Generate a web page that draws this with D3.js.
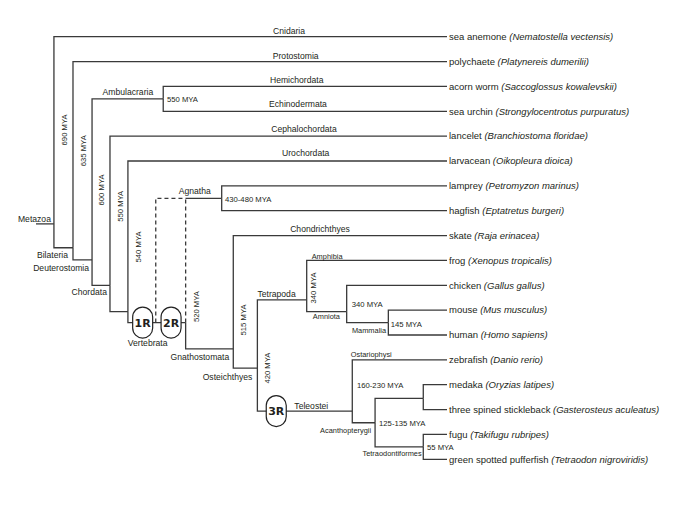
<!DOCTYPE html>
<html>
<head>
<meta charset="utf-8">
<script src="https://cdn.jsdelivr.net/npm/d3@7"></script>
<style>
  body { margin: 0; background: #fff; }
  text { font-family: "Liberation Sans", Arial, sans-serif; fill: #231f20; }
</style>
</head>
<body>
<svg id="chart" width="685" height="529"></svg>
<script>
// ---- data ----
// leaves, top to bottom
const commonNames = ["sea anemone", "polychaete", "acorn worm", "sea urchin", "lancelet", "larvacean",
  "lamprey", "hagfish", "skate", "frog", "chicken", "mouse", "human", "zebrafish", "medaka",
  "three spined stickleback", "fugu", "green spotted pufferfish"];
const speciesNames = ["Nematostella vectensis", "Platynereis dumerilii", "Saccoglossus kowalevskii",
  "Strongylocentrotus purpuratus", "Branchiostoma floridae", "Oikopleura dioica", "Petromyzon marinus",
  "Eptatretus burgeri", "Raja erinacea", "Xenopus tropicalis", "Gallus gallus", "Mus musculus",
  "Homo sapiens", "Danio rerio", "Oryzias latipes", "Gasterosteus aculeatus", "Takifugu rubripes",
  "Tetraodon nigroviridis"];
// names written on the branch leading to a leaf
const leafStems = ["Cnidaria", "Protostomia", "Hemichordata", "Echinodermata", "Cephalochordata",
  "Urochordata", "", "", "Chondrichthyes", "Amphibia", "", "", "", "Ostariophysi", "", "", "", ""];

// internal nodes
const nodeIds = ["Metazoa", "Bilateria", "Deuterostomia", "Ambulacraria", "Chordata", "Olfactores",
  "Vertebrata", "Agnatha", "Gnathostomata", "Osteichthyes", "Tetrapoda", "Amniota", "Mammalia",
  "Teleostei", "Acanthopterygii", "Percomorpha", "Tetraodontiformes"];
const nodeLabels = ["Metazoa", "Bilateria", "Deuterostomia", "Ambulacraria", "Chordata", "",
  "Vertebrata", "Agnatha", "Gnathostomata", "Osteichthyes", "Tetrapoda", "Amniota", "Mammalia",
  "Teleostei", "Acanthopterygii", "", "Tetraodontiformes"];
const nodeAges = ["690 MYA", "635 MYA", "600 MYA", "550 MYA", "550 MYA", "540 MYA", "520 MYA",
  "430-480 MYA", "515 MYA", "420 MYA", "340 MYA", "340 MYA", "145 MYA", "160-230 MYA",
  "125-135 MYA", "", "55 MYA"];
const nodeChildren = [
  ["sea anemone", "Bilateria"],
  ["polychaete", "Deuterostomia"],
  ["Ambulacraria", "Chordata"],
  ["acorn worm", "sea urchin"],
  ["lancelet", "Olfactores"],
  ["larvacean", "Vertebrata"],
  ["Agnatha", "Gnathostomata"],
  ["lamprey", "hagfish"],
  ["skate", "Osteichthyes"],
  ["Tetrapoda", "Teleostei"],
  ["frog", "Amniota"],
  ["chicken", "Mammalia"],
  ["mouse", "human"],
  ["zebrafish", "Acanthopterygii"],
  ["Percomorpha", "Tetraodontiformes"],
  ["medaka", "three spined stickleback"],
  ["fugu", "green spotted pufferfish"]
];
// whole genome duplications and the stem they sit on
const duplications = ["1R", "2R", "3R"];
const duplicationStem = ["Vertebrata", "Vertebrata", "Teleostei"];
// uncertain branch (agnathan split relative to 2R)
const uncertainChild = "Agnatha";

// ---- layout (columns / rows in tree units) ----
const tipCol = 22, rootCol = 0;
const nodeCol = { Metazoa: 0.96, Bilateria: 1.98, Deuterostomia: 3, Ambulacraria: 6.81, Chordata: 3.96,
  Olfactores: 4.92, Vertebrata: 8.01, Agnatha: 9.94, Gnathostomata: 10.56, Osteichthyes: 11.85,
  Tetrapoda: 14.49, Amniota: 16.63, Mammalia: 18.86, Teleostei: 16.93, Acanthopterygii: 18.15,
  Percomorpha: 20.73, Tetraodontiformes: 20.73 };
const nodeRow = { Metazoa: 7.53, Bilateria: 8.49, Deuterostomia: 8.98, Ambulacraria: 2.5, Chordata: 10,
  Olfactores: 11.06, Vertebrata: 11.5, Agnatha: 6.5, Gnathostomata: 12.56, Osteichthyes: 13.33,
  Tetrapoda: 10.59, Amniota: 11.06, Mammalia: 11.5, Teleostei: 15.06, Acanthopterygii: 15.53,
  Percomorpha: 14.55, Tetraodontiformes: 16.5 };
const dupCol = [5.71, 7.23, 12.86];
const altCol = 6.41;

// label placement relative to node (px)
const labelPos = {
  Metazoa: ["end", -3, -5, 8.6], Bilateria: ["end", -5, 7, 8.6], Deuterostomia: ["end", -3, 8, 8.6],
  Ambulacraria: ["end", -10, -7, 8.6], Chordata: ["end", -3, 7, 8.6], Vertebrata: ["middle", -38, 20.5, 8.6],
  Agnatha: ["middle", -27, -7.5, 8.6], Gnathostomata: ["end", -4, 8, 8.6], Osteichthyes: ["end", -5, 9, 8.6],
  Tetrapoda: ["end", -11, -6, 8.6], Amniota: ["end", -6.7, 5, 7.4], Mammalia: ["end", -2.3, 7.7, 7.4],
  Teleostei: ["end", -24, -5.3, 8.6], Acanthopterygii: ["end", -4, 8, 7.4],
  Tetraodontiformes: ["end", -1.6, 7, 7.4]
};
// [rotated, dx, dy]
const agePos = {
  Metazoa: [true, 10, -94], Bilateria: [true, 10, -97], Deuterostomia: [true, 9.7, -70],
  Chordata: [true, 10, -79], Olfactores: [true, 10.3, -64.7], Vertebrata: [true, 11, -16],
  Gnathostomata: [true, 10, -29], Osteichthyes: [true, 10, 0], Tetrapoda: [true, 6.6, -12],
  Ambulacraria: [false, 3.7, 0], Agnatha: [false, 3.3, 1], Amniota: [false, 5, -7.7],
  Mammalia: [false, 2.4, 2], Teleostei: [false, 4.7, -25.3], Acanthopterygii: [false, 4, 0.6],
  Tetraodontiformes: [false, 3.7, 0.4]
};
// stem label: [anchor, x px, dy, size]
const stemPos = {
  Cnidaria: ["middle", 289, -6, 8.6], Protostomia: ["middle", 295.7, -6, 8.6],
  Hemichordata: ["middle", 296.7, -6, 8.6], Echinodermata: ["middle", 298, -7, 8.6],
  Cephalochordata: ["middle", 304, -7, 8.6], Urochordata: ["middle", 305.7, -8, 8.6],
  Chondrichthyes: ["middle", 320, -7, 8.6], Amphibia: ["start", 311.7, -4, 7.4],
  Ostariophysi: ["start", 350.7, -5.5, 7.4]
};

// ---- scales ----
const x = d3.scaleLinear().domain([rootCol, tipCol]).range([36, 447]);
const y = d3.scaleLinear().domain([0, commonNames.length - 1]).range([36.7, 459.3]);

const svg = d3.select("#chart");
const lineColor = "#3a3a3a";

function pos(id) {
  const i = commonNames.indexOf(id);
  if (i >= 0) return [x(tipCol), y(i)];
  return [x(nodeCol[id]), y(nodeRow[id])];
}

const gLines = svg.append("g").attr("fill", "none").attr("stroke", lineColor).attr("stroke-width", 1.3);

// root stub
gLines.append("path")
  .attr("d", `M${x(rootCol)},${y(nodeRow.Metazoa)}H${x(nodeCol.Metazoa)}`);

// edges: from node down/up to child row, then across to child
const edges = [];
nodeIds.forEach((id, k) => nodeChildren[k].forEach(c => edges.push({ parent: id, child: c })));

edges.forEach(e => {
  const [px, py] = pos(e.parent);
  const [cx, cy] = pos(e.child);
  if (e.child === uncertainChild) {
    gLines.append("path").attr("d", `M${px},${py}V${cy}`).attr("stroke-dasharray", "4,3");
    gLines.append("path").attr("d", `M${px},${cy}H${cx}`);
  } else {
    gLines.append("path").attr("d", `M${px},${py}V${cy}H${cx}`);
  }
});

// alternative dashed route (agnathan split between 1R and 2R)
{
  const vy = y(nodeRow.Vertebrata), ay = y(nodeRow.Agnatha);
  gLines.append("path")
    .attr("d", `M${x(altCol)},${vy}V${ay}H${x(nodeCol.Vertebrata)}`)
    .attr("stroke-dasharray", "4,3");
}

// duplication pills
const gDup = svg.append("g");
duplications.forEach((d, i) => {
  const cx = x(dupCol[i]), cy = y(nodeRow[duplicationStem[i]]);
  gDup.append("rect")
    .attr("x", cx - 10).attr("y", cy - 15.5)
    .attr("width", 20).attr("height", 31).attr("rx", 10).attr("ry", 10)
    .attr("fill", "#fff").attr("stroke", "#222").attr("stroke-width", 1.2);
  gDup.append("text")
    .attr("x", cx).attr("y", cy).attr("dy", "0.36em")
    .attr("text-anchor", "middle")
    .style("font-family", "'DejaVu Sans', sans-serif")
    .style("font-weight", "bold").style("font-size", "11px")
    .text(d);
});

// leaf labels
const gLeaf = svg.append("g");
commonNames.forEach((n, i) => {
  const t = gLeaf.append("text")
    .attr("x", x(tipCol) + 2).attr("y", y(i)).attr("dy", "0.35em")
    .style("font-size", "9.5px");
  t.append("tspan").text(n + " ");
  t.append("tspan").style("font-style", "italic").text("(" + speciesNames[i] + ")");
});

// stem labels
leafStems.forEach((s, i) => {
  if (!s) return;
  const p = stemPos[s];
  svg.append("text")
    .attr("x", p[1]).attr("y", y(i) + p[2]).attr("dy", "0.35em")
    .attr("text-anchor", p[0]).style("font-size", p[3] + "px")
    .text(s);
});

// clade labels
nodeIds.forEach((id, k) => {
  const lab = nodeLabels[k];
  if (!lab) return;
  const p = labelPos[id];
  const [nx, ny] = pos(id);
  svg.append("text")
    .attr("x", nx + p[1]).attr("y", ny + p[2]).attr("dy", "0.35em")
    .attr("text-anchor", p[0]).style("font-size", p[3] + "px")
    .text(lab);
});

// divergence times
nodeIds.forEach((id, k) => {
  const age = nodeAges[k];
  if (!age) return;
  const p = agePos[id];
  const [nx, ny] = pos(id);
  const tx = nx + p[1], ty = ny + p[2];
  const t = svg.append("text").attr("dy", "0.35em").style("font-size", "7.7px").text(age);
  if (p[0]) {
    t.attr("text-anchor", "middle").attr("transform", `translate(${tx},${ty}) rotate(-90)`);
  } else {
    t.attr("x", tx).attr("y", ty).attr("text-anchor", "start");
  }
});
</script>
</body>
</html>
